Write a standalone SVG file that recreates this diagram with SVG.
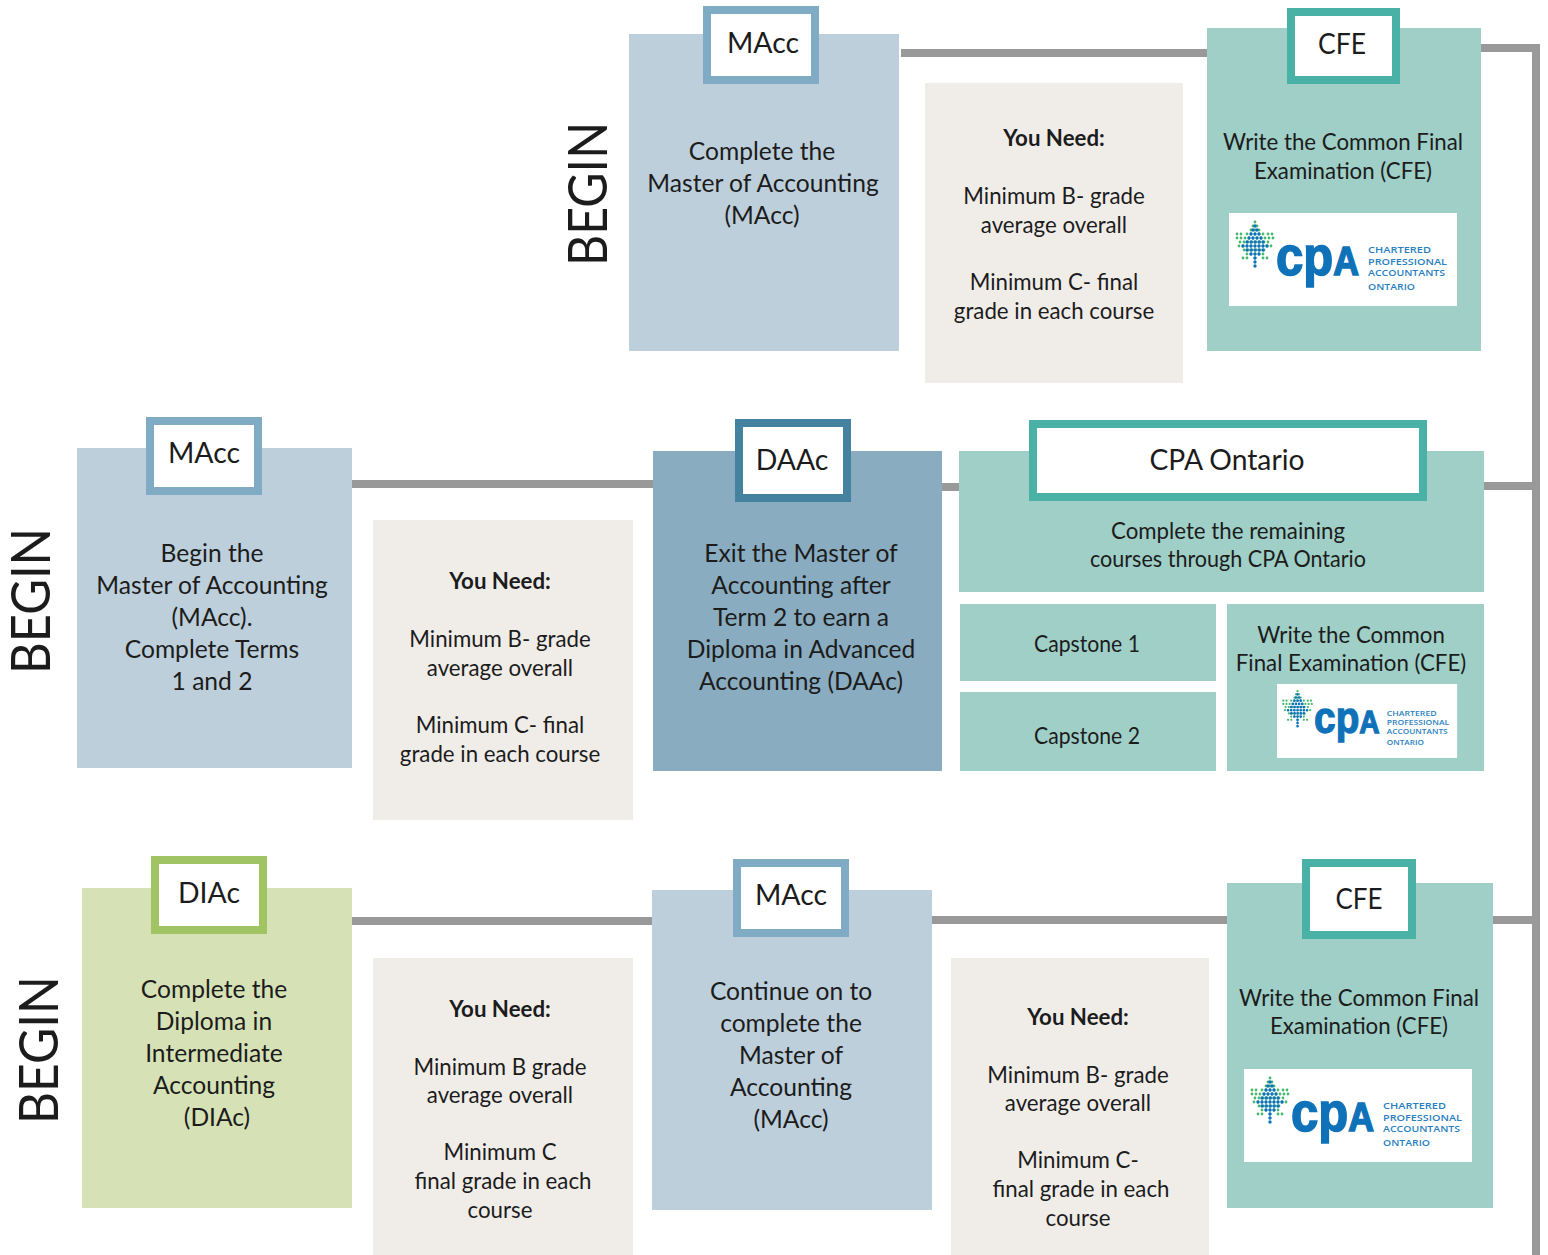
<svg xmlns="http://www.w3.org/2000/svg" width="1548" height="1255" viewBox="0 0 1548 1255">
<style>
text{font-family:"Lato","Liberation Sans",sans-serif;fill:#1c1c1c;text-anchor:middle}
.b{font-size:24.6px}
.t{font-size:28.400px}
.n{font-size:22.250px}
.h{font-weight:700}
.v{font-size:54px}
.conn{stroke:#999;stroke-width:8;fill:none}
.tag{fill:#fff;stroke-width:8}
.lb{fill:#bccfda}.ld{fill:#8aacc0}.g{fill:#9fcfc7}.gr{fill:#d6e2b6}.p{fill:#f0ede9}
.sb{stroke:#7fabc4}.sd{stroke:#45829f}.st{stroke:#49b1a5}.sg{stroke:#a0c463}
#logo text{font-family:"Open Sans","Liberation Sans",sans-serif;fill:#2a7fbf;text-anchor:start}
#logo text.cp{font-family:"Liberation Sans",sans-serif;font-size:55px;font-weight:700;fill:#0f72b9;stroke:#0f72b9;stroke-width:1.6}
.sm{font-size:9.500px;font-weight:600}
.dg{stroke:#45b86e;stroke-width:2.800;stroke-linecap:round;stroke-dasharray:0 4;fill:none}
.db{stroke:#0f72b9;stroke-width:3.400;stroke-linecap:round;stroke-dasharray:0 4;fill:none}
</style>
<defs>
<g id="logo">
<rect width="228" height="93" fill="#fff"/>
<path class="dg" d="M26 9v1M24 13h5M22 17h9M8 21h5M18 21h17M39 21h6M8 25h37M11 29h31M10 33h33M15 37h23M18 41h17M14 45h5M26 45v1M34 45h5"/>
<path class="db" d="M26 13v1M24 17h5M22 21h9M20 25h13M18 29h17M14 33h25M18 37h17M22 41h9M26 45v1M26 49v1M26 53v1"/>
<text class="cp" x="47" y="62" textLength="83" lengthAdjust="spacingAndGlyphs">cp<tspan font-size="40">A</tspan></text>
<text class="sm" x="139" y="40" textLength="63" lengthAdjust="spacingAndGlyphs">CHARTERED</text>
<text class="sm" x="139" y="51.500" textLength="79" lengthAdjust="spacingAndGlyphs">PROFESSIONAL</text>
<text class="sm" x="139" y="62.500" textLength="77" lengthAdjust="spacingAndGlyphs">ACCOUNTANTS</text>
<text class="sm" x="139" y="77" textLength="47" lengthAdjust="spacingAndGlyphs">ONTARIO</text>
</g>
</defs>
<g id="connectors">
<path class="conn" d="M901 53H1207M1481 48H1536V1255M352 484H653M942 487H959M1484 486H1536M352 921H652M932 920H1227M1493 920H1536"/>
</g>
<g id="begin-1"><text class="v" transform="translate(607 194) rotate(-90)" textLength="144" lengthAdjust="spacingAndGlyphs">BEGIN</text></g>
<g id="begin-2"><text class="v" transform="translate(50 601) rotate(-90)" textLength="146" lengthAdjust="spacingAndGlyphs">BEGIN</text></g>
<g id="begin-3"><text class="v" transform="translate(58 1050) rotate(-90)" textLength="148" lengthAdjust="spacingAndGlyphs">BEGIN</text></g>
<g id="macc-top">
<rect class="lb" x="629" y="34" width="270" height="317"/>
<rect class="tag sb" x="707" y="10" width="108" height="70"/>
<text class="t" x="763" y="53">MAcc</text>
<text class="b" x="762" y="160">Complete the</text>
<text class="b" x="763" y="192">Master of Accounting</text>
<text class="b" x="762" y="224">(MAcc)</text>
</g>
<g id="need-top">
<rect class="p" x="925" y="83" width="258" height="300"/>
<text class="n h" x="1054" y="146">You Need:</text>
<text class="n" x="1054" y="203.500">Minimum B- grade</text>
<text class="n" x="1054" y="232.500">average overall</text>
<text class="n" x="1054" y="289.500">Minimum C- final</text>
<text class="n" x="1054" y="318.500">grade in each course</text>
</g>
<g id="cfe-top">
<rect class="g" x="1207" y="28" width="274" height="323"/>
<rect class="tag st" x="1291" y="12" width="105" height="68"/>
<text class="t" x="1342" y="54" textLength="48" lengthAdjust="spacingAndGlyphs">CFE</text>
<text class="n" x="1343" y="149.500">Write the Common Final</text>
<text class="n" x="1343" y="178.500">Examination (CFE)</text>
<use href="#logo" x="1229" y="213"/>
</g>
<g id="macc-mid">
<rect class="lb" x="77" y="448" width="275" height="320"/>
<rect class="tag sb" x="150" y="421" width="108" height="70"/>
<text class="t" x="204" y="463">MAcc</text>
<text class="b" x="212" y="562">Begin the</text>
<text class="b" x="212" y="594">Master of Accounting</text>
<text class="b" x="212" y="626">(MAcc).</text>
<text class="b" x="212" y="658">Complete Terms</text>
<text class="b" x="212" y="690">1 and 2</text>
</g>
<g id="need-mid">
<rect class="p" x="373" y="520" width="260" height="300"/>
<text class="n h" x="500" y="589">You Need:</text>
<text class="n" x="500" y="646.500">Minimum B- grade</text>
<text class="n" x="500" y="675.500">average overall</text>
<text class="n" x="500" y="732.500">Minimum C- final</text>
<text class="n" x="500" y="761.500">grade in each course</text>
</g>
<g id="daac">
<rect class="ld" x="653" y="451" width="289" height="320"/>
<rect class="tag sd" x="739" y="423" width="108" height="75"/>
<text class="t" x="792" y="470">DAAc</text>
<text class="b" x="801" y="562">Exit the Master of</text>
<text class="b" x="801" y="594">Accounting after</text>
<text class="b" x="801" y="626">Term 2 to earn a</text>
<text class="b" x="801" y="658">Diploma in Advanced</text>
<text class="b" x="801" y="690">Accounting (DAAc)</text>
</g>
<g id="cpa-ontario">
<rect class="g" x="959" y="451" width="525" height="141"/>
<rect class="tag st" x="1033" y="424" width="390" height="73"/>
<text class="t" x="1227" y="470" textLength="155" lengthAdjust="spacingAndGlyphs">CPA Ontario</text>
<text class="n" x="1228" y="538.500">Complete the remaining</text>
<text class="n" x="1228" y="566.500" textLength="276" lengthAdjust="spacingAndGlyphs">courses through CPA Ontario</text>
</g>
<g id="capstone-1">
<rect class="g" x="960" y="604" width="256" height="77"/>
<text class="n" x="1087" y="651.500" textLength="106" lengthAdjust="spacingAndGlyphs">Capstone 1</text>
</g>
<g id="capstone-2">
<rect class="g" x="960" y="692" width="256" height="79"/>
<text class="n" x="1087" y="743.500" textLength="106" lengthAdjust="spacingAndGlyphs">Capstone 2</text>
</g>
<g id="cfe-mid">
<rect class="g" x="1227" y="604" width="257" height="167"/>
<text class="n" x="1351" y="642.500">Write the Common</text>
<text class="n" x="1351" y="670.500">Final Examination (CFE)</text>
<use href="#logo" transform="translate(1277 684) scale(.79 .795)"/>
</g>
<g id="diac">
<rect class="gr" x="82" y="888" width="270" height="320"/>
<rect class="tag sg" x="155" y="860" width="108" height="70"/>
<text class="t" x="209" y="903">DIAc</text>
<text class="b" x="214" y="998">Complete the</text>
<text class="b" x="214" y="1030">Diploma in</text>
<text class="b" x="214" y="1062">Intermediate</text>
<text class="b" x="214" y="1094">Accounting</text>
<text class="b" x="217" y="1126">(DIAc)</text>
</g>
<g id="need-low-1">
<rect class="p" x="373" y="958" width="260" height="297"/>
<text class="n h" x="500" y="1017">You Need:</text>
<text class="n" x="500" y="1074.500">Minimum B grade</text>
<text class="n" x="500" y="1102.500">average overall</text>
<text class="n" x="500" y="1160">Minimum C</text>
<text class="n" x="503" y="1189">final grade in each</text>
<text class="n" x="500" y="1218">course</text>
</g>
<g id="macc-low">
<rect class="lb" x="652" y="890" width="280" height="320"/>
<rect class="tag sb" x="737" y="863" width="108" height="70"/>
<text class="t" x="791" y="905">MAcc</text>
<text class="b" x="791" y="1000">Continue on to</text>
<text class="b" x="791" y="1032">complete the</text>
<text class="b" x="791" y="1064">Master of</text>
<text class="b" x="791" y="1096">Accounting</text>
<text class="b" x="791" y="1128">(MAcc)</text>
</g>
<g id="need-low-2">
<rect class="p" x="951" y="958" width="258" height="297"/>
<text class="n h" x="1078" y="1025">You Need:</text>
<text class="n" x="1078" y="1082.500">Minimum B- grade</text>
<text class="n" x="1078" y="1110.500">average overall</text>
<text class="n" x="1078" y="1168">Minimum C-</text>
<text class="n" x="1081" y="1197">final grade in each</text>
<text class="n" x="1078" y="1226">course</text>
</g>
<g id="cfe-low">
<rect class="g" x="1227" y="883" width="266" height="325"/>
<rect class="tag st" x="1306" y="863" width="106" height="72"/>
<text class="t" x="1359" y="909" textLength="47" lengthAdjust="spacingAndGlyphs">CFE</text>
<text class="n" x="1359" y="1005.500">Write the Common Final</text>
<text class="n" x="1359" y="1033.500">Examination (CFE)</text>
<use href="#logo" x="1244" y="1069"/>
</g>
</svg>
